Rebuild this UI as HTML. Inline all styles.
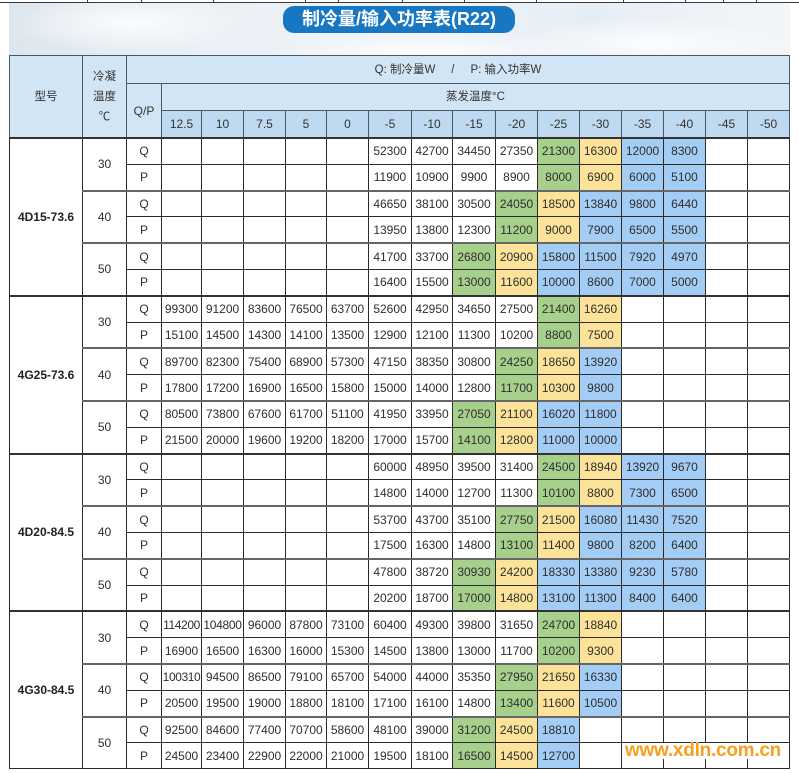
<!DOCTYPE html>
<html>
<head>
<meta charset="utf-8">
<style>
html,body{margin:0;padding:0;background:#fff;}
body{width:799px;height:773px;position:relative;overflow:hidden;font-family:"Liberation Sans","Noto Sans CJK SC",sans-serif;color:#2b2b2b;}
.topline{position:absolute;left:0;top:0;width:799px;height:2px;border-bottom:1px solid #3a3a3a;}
.tick{position:absolute;top:0;width:1px;height:3px;background:#3a3a3a;}
.bg{position:absolute;left:9px;top:3px;width:781px;height:53px;
background:
radial-gradient(ellipse 120px 30px at 120px 20px, rgba(255,255,255,0.85), rgba(255,255,255,0)),
radial-gradient(ellipse 140px 25px at 640px 40px, rgba(255,255,255,0.9), rgba(255,255,255,0)),
radial-gradient(ellipse 160px 20px at 420px 48px, rgba(255,255,255,0.8), rgba(255,255,255,0)),
linear-gradient(to right,#dde6ee 0%,#eaf0f5 25%,#eef3f7 50%,#e6eef5 75%,#f2f6f9 100%);}
.title{position:absolute;left:283px;top:6px;width:232px;height:27px;border-radius:11px;background:#1777c3;color:#fff;font-weight:bold;font-size:18px;line-height:27px;text-align:center;font-family:"Liberation Sans","Noto Sans CJK SC",sans-serif;}
table{position:absolute;left:9px;top:55px;width:780px;border-collapse:collapse;table-layout:fixed;border:1.5px solid #333;}
td{border:1px solid #2a2a2a;padding:0;text-align:center;vertical-align:middle;font-size:12px;line-height:14px;white-space:nowrap;overflow:hidden;height:24.8px;color:#2e2e2e;}
.h td{background:#d2e5f4;border-color:#44596b;color:#333;font-size:11.5px;}
.h td.t{background:#bfdaf0;font-size:12px;}
tr.h1 td{height:27px;}
tr.h2 td{height:26px;}
tr.h3 td{height:26px;}
td.m{font-weight:bold;color:#222;}
td.g{background:#a8d08d;}
td.y{background:#fde39a;}
td.b{background:#a4cdf6;}
tr.gt td{border-top:2px solid #666;}
tr.mt td{border-top:2px solid #333;}
.wm{position:absolute;left:625px;top:743px;height:16px;width:163px;background:#fff;color:#f5a021;font-weight:bold;font-size:19px;line-height:16px;letter-spacing:-0.25px;font-family:"Liberation Sans",sans-serif;}
</style>
</head>
<body>
<div class="topline"></div>
<div class="tick" style="left:87px"></div><div class="tick" style="left:141px"></div><div class="tick" style="left:213px"></div><div class="tick" style="left:305px"></div><div class="tick" style="left:338px"></div><div class="tick" style="left:402px"></div><div class="tick" style="left:464px"></div><div class="tick" style="left:536px"></div><div class="tick" style="left:623px"></div><div class="tick" style="left:685px"></div><div class="tick" style="left:723px"></div><div class="tick" style="left:756px"></div>
<div class="bg"></div>
<div class="title">制冷量/输入功率表(R22)</div>
<table>
<colgroup>
<col style="width:73px"><col style="width:44px"><col style="width:35px"><col style="width:40px"><col style="width:42px"><col style="width:42px"><col style="width:41px"><col style="width:42px"><col style="width:43px"><col style="width:41px"><col style="width:43px"><col style="width:42px"><col style="width:42px"><col style="width:42px"><col style="width:42px"><col style="width:42px"><col style="width:42px"><col style="width:42px">
</colgroup>
<tr class="h h1"><td rowspan="3">型号</td><td rowspan="3" style="line-height:20px">冷凝<br>温度<br>℃</td><td colspan="16">Q: 制冷量W&nbsp;&nbsp;&nbsp;&nbsp;&nbsp;/&nbsp;&nbsp;&nbsp;&nbsp;&nbsp;P: 输入功率W</td></tr>
<tr class="h h2"><td rowspan="2" style="font-size:12px">Q/P</td><td colspan="15">蒸发温度°C</td></tr>
<tr class="h h3"><td class="t">12.5</td><td class="t">10</td><td class="t">7.5</td><td class="t">5</td><td class="t">0</td><td class="t">-5</td><td class="t">-10</td><td class="t">-15</td><td class="t">-20</td><td class="t">-25</td><td class="t">-30</td><td class="t">-35</td><td class="t">-40</td><td class="t">-45</td><td class="t">-50</td></tr>

<!-- 4D15-73.6 -->
<tr class="mt"><td rowspan="6" class="m">4D15-73.6</td><td rowspan="2">30</td><td>Q</td><td></td><td></td><td></td><td></td><td></td><td>52300</td><td>42700</td><td>34450</td><td>27350</td><td class="g">21300</td><td class="y">16300</td><td class="b">12000</td><td class="b">8300</td><td></td><td></td></tr>
<tr><td>P</td><td></td><td></td><td></td><td></td><td></td><td>11900</td><td>10900</td><td>9900</td><td>8900</td><td class="g">8000</td><td class="y">6900</td><td class="b">6000</td><td class="b">5100</td><td></td><td></td></tr>
<tr class="gt"><td rowspan="2">40</td><td>Q</td><td></td><td></td><td></td><td></td><td></td><td>46650</td><td>38100</td><td>30500</td><td class="g">24050</td><td class="y">18500</td><td class="b">13840</td><td class="b">9800</td><td class="b">6440</td><td></td><td></td></tr>
<tr><td>P</td><td></td><td></td><td></td><td></td><td></td><td>13950</td><td>13800</td><td>12300</td><td class="g">11200</td><td class="y">9000</td><td class="b">7900</td><td class="b">6500</td><td class="b">5500</td><td></td><td></td></tr>
<tr class="gt"><td rowspan="2">50</td><td>Q</td><td></td><td></td><td></td><td></td><td></td><td>41700</td><td>33700</td><td class="g">26800</td><td class="y">20900</td><td class="b">15800</td><td class="b">11500</td><td class="b">7920</td><td class="b">4970</td><td></td><td></td></tr>
<tr><td>P</td><td></td><td></td><td></td><td></td><td></td><td>16400</td><td>15500</td><td class="g">13000</td><td class="y">11600</td><td class="b">10000</td><td class="b">8600</td><td class="b">7000</td><td class="b">5000</td><td></td><td></td></tr>

<!-- 4G25-73.6 -->
<tr class="mt"><td rowspan="6" class="m">4G25-73.6</td><td rowspan="2">30</td><td>Q</td><td>99300</td><td>91200</td><td>83600</td><td>76500</td><td>63700</td><td>52600</td><td>42950</td><td>34650</td><td>27500</td><td class="g">21400</td><td class="y">16260</td><td></td><td></td><td></td><td></td></tr>
<tr><td>P</td><td>15100</td><td>14500</td><td>14300</td><td>14100</td><td>13500</td><td>12900</td><td>12100</td><td>11300</td><td>10200</td><td class="g">8800</td><td class="y">7500</td><td></td><td></td><td></td><td></td></tr>
<tr class="gt"><td rowspan="2">40</td><td>Q</td><td>89700</td><td>82300</td><td>75400</td><td>68900</td><td>57300</td><td>47150</td><td>38350</td><td>30800</td><td class="g">24250</td><td class="y">18650</td><td class="b">13920</td><td></td><td></td><td></td><td></td></tr>
<tr><td>P</td><td>17800</td><td>17200</td><td>16900</td><td>16500</td><td>15800</td><td>15000</td><td>14000</td><td>12800</td><td class="g">11700</td><td class="y">10300</td><td class="b">9800</td><td></td><td></td><td></td><td></td></tr>
<tr class="gt"><td rowspan="2">50</td><td>Q</td><td>80500</td><td>73800</td><td>67600</td><td>61700</td><td>51100</td><td>41950</td><td>33950</td><td class="g">27050</td><td class="y">21100</td><td class="b">16020</td><td class="b">11800</td><td></td><td></td><td></td><td></td></tr>
<tr><td>P</td><td>21500</td><td>20000</td><td>19600</td><td>19200</td><td>18200</td><td>17000</td><td>15700</td><td class="g">14100</td><td class="y">12800</td><td class="b">11000</td><td class="b">10000</td><td></td><td></td><td></td><td></td></tr>

<!-- 4D20-84.5 -->
<tr class="mt"><td rowspan="6" class="m">4D20-84.5</td><td rowspan="2">30</td><td>Q</td><td></td><td></td><td></td><td></td><td></td><td>60000</td><td>48950</td><td>39500</td><td>31400</td><td class="g">24500</td><td class="y">18940</td><td class="b">13920</td><td class="b">9670</td><td></td><td></td></tr>
<tr><td>P</td><td></td><td></td><td></td><td></td><td></td><td>14800</td><td>14000</td><td>12700</td><td>11300</td><td class="g">10100</td><td class="y">8800</td><td class="b">7300</td><td class="b">6500</td><td></td><td></td></tr>
<tr class="gt"><td rowspan="2">40</td><td>Q</td><td></td><td></td><td></td><td></td><td></td><td>53700</td><td>43700</td><td>35100</td><td class="g">27750</td><td class="y">21500</td><td class="b">16080</td><td class="b">11430</td><td class="b">7520</td><td></td><td></td></tr>
<tr><td>P</td><td></td><td></td><td></td><td></td><td></td><td>17500</td><td>16300</td><td>14800</td><td class="g">13100</td><td class="y">11400</td><td class="b">9800</td><td class="b">8200</td><td class="b">6400</td><td></td><td></td></tr>
<tr class="gt"><td rowspan="2">50</td><td>Q</td><td></td><td></td><td></td><td></td><td></td><td>47800</td><td>38720</td><td class="g">30930</td><td class="y">24200</td><td class="b">18330</td><td class="b">13380</td><td class="b">9230</td><td class="b">5780</td><td></td><td></td></tr>
<tr><td>P</td><td></td><td></td><td></td><td></td><td></td><td>20200</td><td>18700</td><td class="g">17000</td><td class="y">14800</td><td class="b">13100</td><td class="b">11300</td><td class="b">8400</td><td class="b">6400</td><td></td><td></td></tr>

<!-- 4G30-84.5 -->
<tr class="mt"><td rowspan="6" class="m">4G30-84.5</td><td rowspan="2">30</td><td>Q</td><td style="letter-spacing:-0.4px">114200</td><td style="letter-spacing:-0.3px">104800</td><td>96000</td><td>87800</td><td>73100</td><td>60400</td><td>49300</td><td>39800</td><td>31650</td><td class="g">24700</td><td class="y">18840</td><td></td><td></td><td></td><td></td></tr>
<tr><td>P</td><td>16900</td><td>16500</td><td>16300</td><td>16000</td><td>15300</td><td>14500</td><td>13800</td><td>13000</td><td>11700</td><td class="g">10200</td><td class="y">9300</td><td></td><td></td><td></td><td></td></tr>
<tr class="gt"><td rowspan="2">40</td><td>Q</td><td style="letter-spacing:-0.4px">100310</td><td>94500</td><td>86500</td><td>79100</td><td>65700</td><td>54000</td><td>44000</td><td>35350</td><td class="g">27950</td><td class="y">21650</td><td class="b">16330</td><td></td><td></td><td></td><td></td></tr>
<tr><td>P</td><td>20500</td><td>19500</td><td>19000</td><td>18800</td><td>18100</td><td>17100</td><td>16100</td><td>14800</td><td class="g">13400</td><td class="y">11600</td><td class="b">10500</td><td></td><td></td><td></td><td></td></tr>
<tr class="gt"><td rowspan="2">50</td><td>Q</td><td>92500</td><td>84600</td><td>77400</td><td>70700</td><td>58600</td><td>48100</td><td>39000</td><td class="g">31200</td><td class="y">24500</td><td class="b">18810</td><td></td><td></td><td></td><td></td><td></td></tr>
<tr><td>P</td><td>24500</td><td>23400</td><td>22900</td><td>22000</td><td>21000</td><td>19500</td><td>18100</td><td class="g">16500</td><td class="y">14500</td><td class="b">12700</td><td></td><td></td><td></td><td></td><td></td></tr>
</table>
<div class="wm">www.xdln.com.cn</div>
</body>
</html>
